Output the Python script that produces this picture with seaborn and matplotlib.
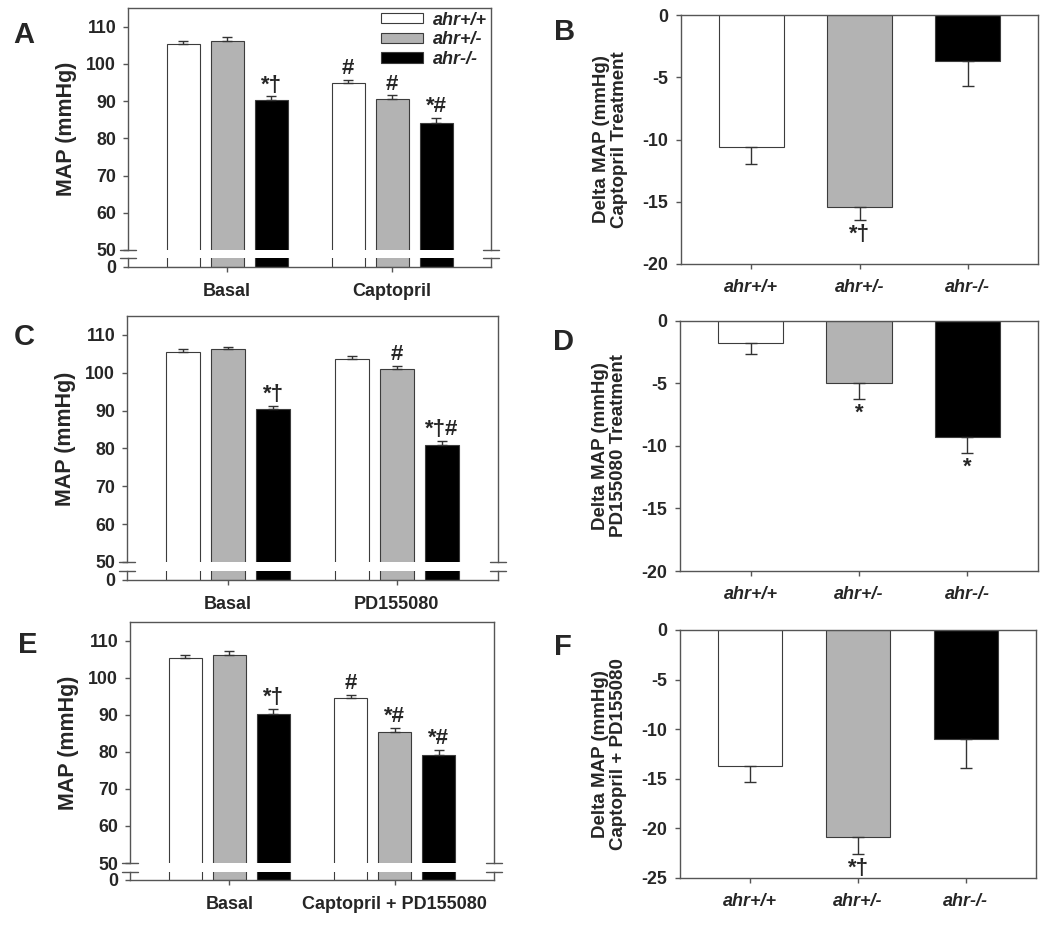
import matplotlib
matplotlib.use("Agg")
import matplotlib.pyplot as plt
from matplotlib.patches import Patch
from matplotlib.container import BarContainer
import seaborn as sns
import pandas as pd

W, H = 1050, 934

genotypes = ["ahr+/+", "ahr+/-", "ahr-/-"]
colors = ["#ffffff", "#b3b3b3", "#000000"]
edge = "#3c3c3c"
spine_col = "#555555"

# left panels: MAP per group, one value per genotype
a_groups = ["Basal", "Captopril"]
a_map = [[105.3, 106.2, 90.2], [94.8, 90.6, 84.0]]
a_sem = [[0.9, 0.9, 1.1], [0.9, 0.9, 1.5]]
a_marks = [["", "", "*†"], ["#", "#", "*#"]]

c_groups = ["Basal", "PD155080"]
c_map = [[105.4, 106.2, 90.3], [103.6, 101.0, 81.0]]
c_sem = [[0.8, 0.7, 1.05], [0.7, 0.85, 1.0]]
c_marks = [["", "", "*†"], ["", "#", "*†#"]]

e_groups = ["Basal", "Captopril + PD155080"]
e_map = [[105.2, 106.1, 90.1], [94.4, 85.4, 79.2]]
e_sem = [[0.9, 1.0, 1.4], [0.9, 1.1, 1.4]]
e_marks = [["", "", "*†"], ["#", "*#", "*#"]]

# right panels: delta MAP per genotype
b_delta = [-10.6, -15.4, -3.7]
b_sem = [1.35, 1.1, 2.0]
b_marks = ["", "*†", ""]

d_delta = [-1.8, -5.0, -9.3]
d_sem = [0.85, 1.25, 1.3]
d_marks = ["", "*", "*"]

f_delta = [-13.7, -20.9, -11.0]
f_sem = [1.65, 1.7, 2.9]
f_marks = ["", "*†", ""]

sns.set_style("ticks")
plt.rcParams["font.family"] = ["Liberation Sans", "DejaVu Sans"]
plt.rcParams["font.weight"] = "bold"
plt.rcParams["axes.labelweight"] = "bold"
plt.rcParams["axes.unicode_minus"] = False


def px_rect(x0, y0, x1, y1):
    return [x0 / W, 1 - y1 / H, (x1 - x0) / W, (y1 - y0) / H]


def style_ax(ax):
    for s in ax.spines.values():
        s.set_color(spine_col)
        s.set_linewidth(1.0)
    ax.tick_params(direction="out", length=3.5, width=1.0, color=spine_col,
                   labelsize=12.8, pad=5)


def left_panel(fig, x0, x1, ytop, ybrk, ybrk2, ybot, groups, means, sems, marks,
               letter, letter_xy, legend=False):
    ax_top = fig.add_axes(px_rect(x0, ytop, x1, ybrk))
    ax_bot = fig.add_axes(px_rect(x0, ybrk2, x1, ybot))
    df = pd.DataFrame({
        "group": [g for g in groups for _ in genotypes],
        "genotype": genotypes * len(groups),
        "map": [v for row in means for v in row],
    })
    for ax in (ax_top, ax_bot):
        sns.barplot(data=df, x="group", y="map", hue="genotype", hue_order=genotypes,
                    palette=colors, saturation=1, errorbar=None, width=0.8, gap=0.25,
                    edgecolor=edge, linewidth=0.8, legend=False, ax=ax)
        ax.set_xlim(-0.6, 1.6)
        ax.set_xlabel("")
        style_ax(ax)

    scale = (ybrk - ytop) / 65.0
    ax_top.set_ylim(50, 115)
    ax_bot.set_ylim(0, (ybot - ybrk2) / scale)
    ax_top.set_yticks(range(50, 111, 10))
    ax_top.tick_params(bottom=False, labelbottom=False)
    ax_top.spines["bottom"].set_visible(False)
    ax_bot.spines["top"].set_visible(False)
    ax_bot.set_yticks([0])
    ax_bot.set_ylabel("")
    ax_bot.tick_params(axis="x", labelsize=13, pad=8)
    ax_top.set_ylabel("MAP (mmHg)", fontsize=15.5, labelpad=7)

    # break marks
    for ax, yy in ((ax_top, 0), (ax_bot, 1)):
        for xs in ([-0.022, 0.022], [0.978, 1.022]):
            ax.plot(xs, [yy, yy], transform=ax.transAxes, clip_on=False,
                    color=spine_col, lw=1.0)

    bars = [c for c in ax_top.containers if isinstance(c, BarContainer)]
    for h, cont in enumerate(bars):
        for g, bar in enumerate(cont.patches):
            xc = bar.get_x() + bar.get_width() / 2
            m, s = means[g][h], sems[g][h]
            ax_top.errorbar(xc, m, yerr=[[0], [s]], fmt="none", ecolor="#333333",
                            elinewidth=1.0, capsize=3.3, capthick=1.0)
            if marks[g][h]:
                ax_top.annotate(marks[g][h], (xc, m + s), xytext=(0, 0.5),
                                textcoords="offset points", ha="center", va="bottom",
                                fontsize=16, fontweight="bold")

    if legend:
        handles = [Patch(facecolor=c, edgecolor=edge, linewidth=0.8) for c in colors]
        ax_top.legend(handles, genotypes, loc="upper right", bbox_to_anchor=(1.0, 1.0),
                      frameon=False, prop=dict(style="italic", weight="bold", size=13),
                      handlelength=2.3, handleheight=0.5, labelspacing=0.15,
                      handletextpad=0.6, borderpad=0.1, borderaxespad=0.1)

    fig.text(letter_xy[0] / W, 1 - letter_xy[1] / H, letter, fontsize=21,
             fontweight="bold", ha="left", va="baseline")


def right_panel(fig, x0, x1, ytop, ybot, deltas, sems, marks, ylab, ymin,
                letter, letter_xy):
    ax = fig.add_axes(px_rect(x0, ytop, x1, ybot))
    df = pd.DataFrame({"genotype": genotypes, "delta": deltas})
    sns.barplot(data=df, x="genotype", y="delta", hue="genotype", hue_order=genotypes,
                order=genotypes, palette=colors, saturation=1, errorbar=None, width=0.6,
                edgecolor=edge, linewidth=0.8, legend=False, ax=ax)
    style_ax(ax)
    ax.set_xlim(-0.65, 2.65)
    ax.set_ylim(ymin, 0)
    ax.set_yticks(range(ymin, 1, 5))
    ax.set_xlabel("")
    ax.tick_params(axis="y", pad=6)
    ax.tick_params(axis="x", pad=7, labelsize=13)
    for lab in ax.get_xticklabels():
        lab.set_fontstyle("italic")
    ax.set_ylabel(ylab, fontsize=13.5, labelpad=10, linespacing=1.1)

    for bar in list(ax.patches):
        xc = bar.get_x() + bar.get_width() / 2
        i = int(round(xc))
        d, s = deltas[i], sems[i]
        ax.errorbar(xc, d, yerr=[[s], [0]], fmt="none", ecolor="#333333",
                    elinewidth=1.0, capsize=4.3, capthick=1.0)
        if marks[i]:
            ax.annotate(marks[i], (xc, d - s), xytext=(0, -2.5),
                        textcoords="offset points", ha="center", va="top",
                        fontsize=16, fontweight="bold")

    fig.text(letter_xy[0] / W, 1 - letter_xy[1] / H, letter, fontsize=21,
             fontweight="bold", ha="left", va="baseline")


fig = plt.figure(figsize=(W / 100, H / 100), dpi=100)

left_panel(fig, 128, 491, 8, 250, 258, 267, a_groups, a_map, a_sem, a_marks,
           "A", (13, 43), legend=True)
left_panel(fig, 127, 498, 316, 562, 571, 580, c_groups, c_map, c_sem, c_marks,
           "C", (14, 345))
left_panel(fig, 130, 494, 622, 863, 872, 880, e_groups, e_map, e_sem, e_marks,
           "E", (18, 653))

right_panel(fig, 681, 1038, 15, 264, b_delta, b_sem, b_marks,
            "Delta MAP (mmHg)\nCaptopril Treatment", -20, "B", (554, 40))
right_panel(fig, 680, 1038, 321, 571, d_delta, d_sem, d_marks,
            "Delta MAP (mmHg)\nPD155080 Treatment", -20, "D", (553, 350))
right_panel(fig, 680, 1036, 630, 878, f_delta, f_sem, f_marks,
            "Delta MAP (mmHg)\nCaptopril + PD155080", -25, "F", (554, 655))

fig.savefig("out.png", dpi=100)
